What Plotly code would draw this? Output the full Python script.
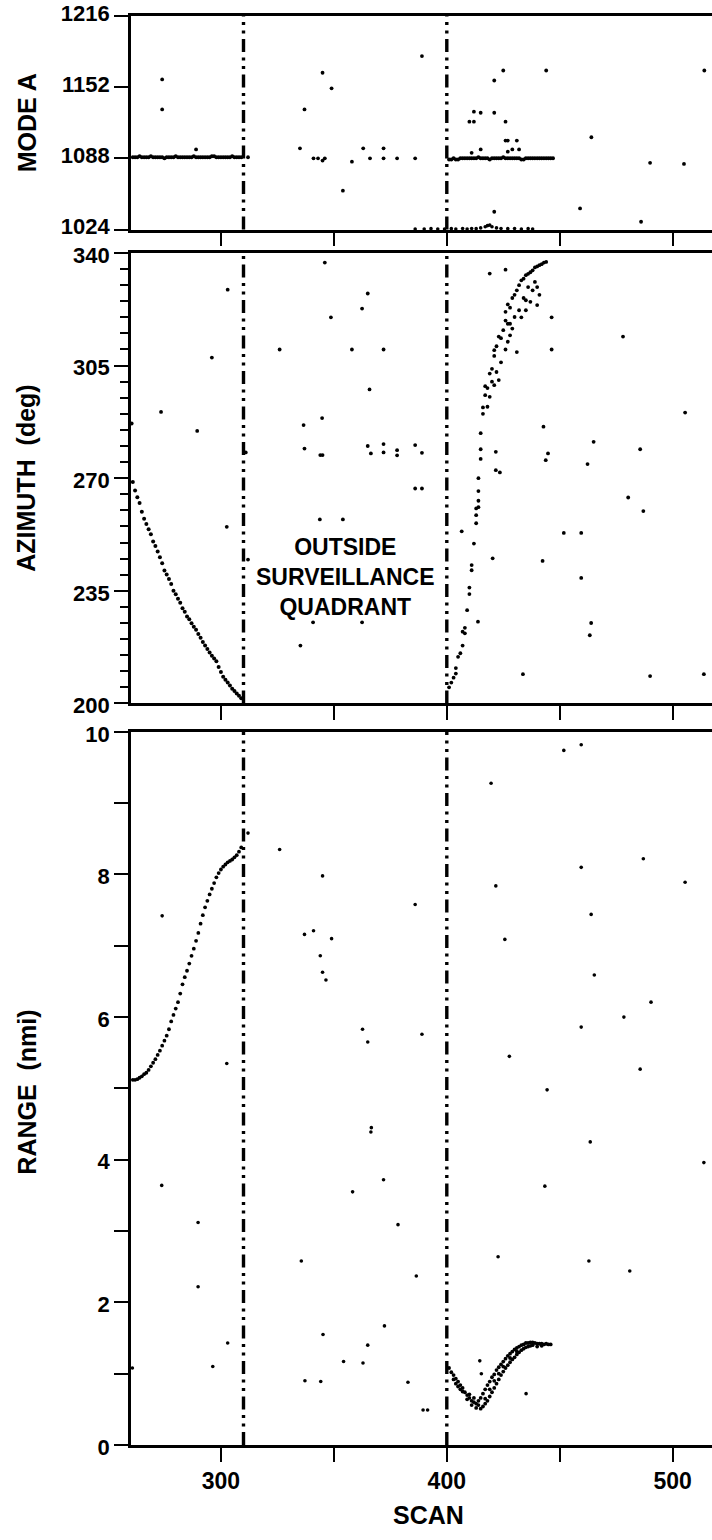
import plotly.graph_objects as go

# ---------------- data ----------------
scan_ticks = [300, 350, 400, 450, 500]
scan_tick_text = ["300", "", "400", "", "500"]
scan_range = [260.2, 517.4]
quadrant_bounds = [310, 400]

mode_range = [1024, 1216]
mode_ticks = [1024, 1088, 1152, 1216]
az_range = [200, 340]
az_ticks = [200, 235, 270, 305, 340]
rng_range = [0, 10]
rng_ticks = [0, 2, 4, 6, 8, 10]
rng_minor_ticks = [1, 3, 5, 7, 9]

# MODE A panel
modeA_track1_scan = list(range(261, 310))
modeA_track1_val = [1089, 1089, 1089, 1090, 1089, 1089, 1089, 1089, 1090, 1089,
                    1089, 1089, 1089, 1089, 1088, 1089, 1089, 1089, 1089, 1090,
                    1089, 1089, 1089, 1089, 1089, 1089, 1089, 1090, 1089, 1089,
                    1089, 1089, 1089, 1089, 1089, 1090, 1090, 1089, 1089, 1089,
                    1089, 1089, 1089, 1089, 1090, 1089, 1089, 1089, 1089]
modeA_track2_scan = list(range(401, 448))
modeA_track2_val = [1087, 1087, 1088, 1087, 1087, 1088, 1088, 1088, 1088, 1088,
                    1088, 1088, 1088, 1089, 1088, 1088, 1088, 1088, 1087, 1088,
                    1088, 1088, 1088, 1088, 1089, 1088, 1088, 1088, 1088, 1088,
                    1088, 1088, 1087, 1087, 1088, 1088, 1088, 1088, 1088, 1088,
                    1088, 1088, 1088, 1088, 1088, 1088, 1088]
modeA_low = [(386, 1024.5), (390, 1024.5), (393, 1024.8), (396, 1024.5), (399, 1024.5),
             (402, 1024.8), (404, 1024.5), (407, 1025), (409, 1024.5), (411, 1025),
             (413, 1024.8), (415, 1025.5), (417, 1026.5), (418, 1027.5), (419, 1028),
             (420, 1026.5), (422, 1025.5), (424, 1025), (427, 1024.8), (430, 1025),
             (433, 1024.5), (436, 1024.8), (438, 1024.5)]
modeA_scatter = [(274, 1159), (274, 1132), (289, 1096), (312, 1089), (335, 1097),
                 (337, 1132), (345, 1165), (341, 1088), (343, 1088), (346, 1088),
                 (345, 1086), (349, 1151), (354, 1059), (358, 1085), (363, 1097),
                 (366, 1088), (372, 1097), (372, 1088), (378, 1088), (386, 1088),
                 (389, 1180), (410, 1121), (412, 1121), (412, 1130), (415, 1129),
                 (421, 1129), (426, 1121), (421, 1158), (425, 1167), (444, 1167),
                 (426, 1104), (427, 1104), (431, 1104), (411, 1093), (415, 1096),
                 (427, 1094), (429, 1096), (432, 1096), (421, 1040), (464, 1107),
                 (459, 1043), (486, 1031), (490, 1084), (505, 1083), (514, 1167)]

# AZIMUTH panel
az_track1_scan = list(range(260, 310))
az_track1_val = [270.0, 268.8, 266.2, 264.1, 262.3, 259.6, 257.4, 255.8, 254.1, 252.6,
                 250.3, 248.9, 247.2, 245.4, 243.6, 241.3, 240.1, 238.7, 237.1, 235.0,
                 233.9, 232.5, 231.3, 229.6, 228.5, 227.0, 226.2, 224.9, 223.8, 222.9,
                 221.6, 220.4, 219.1, 218.0, 216.9, 215.8, 214.8, 214.0, 213.1, 211.3,
                 209.8, 208.3, 207.4, 206.5, 205.6, 204.6, 203.9, 203.1, 202.4, 201.6]
az_track2 = [(401, 205), (402, 206.5), (403, 208), (404, 209.3), (404, 211), (405, 214.5),
             (406, 215.6), (407, 218), (407, 222.3), (408, 221.8), (408, 223.5), (409, 229),
             (410, 234), (410, 236), (411, 241.4), (411, 243), (412, 249.7), (413, 256),
             (413, 258.5), (413, 260.6), (414, 261), (414, 263), (414, 266), (414, 270),
             (415, 276), (415, 279), (415, 284), (416, 290), (416, 292), (417, 295.8),
             (417, 298.6), (418, 298), (419, 302.5), (420, 304), (421, 308), (421, 309.8),
             (422, 311), (423, 314), (424, 313.5), (425, 316), (426, 319), (426, 321.7),
             (427, 318), (427, 324), (428, 323), (429, 326), (430, 327), (431, 328.4),
             (432, 330), (433, 331.5), (434, 332), (435, 333.1), (436, 333.5), (437, 334),
             (438, 334.6), (439, 335.5), (440, 335.8), (441, 336.2), (442, 336.5),
             (443, 337), (444, 337.2),
             (418, 292.2), (419, 295.3), (421, 298.9), (423, 300.5), (427, 312.4),
             (428, 314.4), (429, 316.5), (430, 320.1), (431, 309.2), (432, 322.2),
             (433, 320), (435, 322.2), (435, 325.3), (436, 329.4), (437, 324.8),
             (438, 328.4), (439, 331), (440, 323.8), (440, 329.4), (441, 327),
             (424, 306), (426, 310), (428, 318), (434, 326), (422, 303), (420, 300)]
az_scatter = [(303, 328.6), (296, 307.5), (273.5, 290.6), (289.5, 284.7), (260.5, 287),
              (311, 278), (326, 310), (336.6, 286.5), (337, 279.2), (344.8, 288.7),
              (344, 277.2), (345, 277.2), (346, 337), (348.7, 320), (358, 310),
              (362.5, 322.7), (365, 327.4), (365.8, 297.6), (365, 280), (366.4, 277.7),
              (372, 310), (372, 280.6), (372, 278), (378, 278.7), (378, 277.1),
              (386, 280.3), (389, 277.9), (386, 266.8), (389, 266.8), (419, 333.6),
              (426, 334.8), (421.7, 278.2), (421.7, 272.5), (423.5, 271.8), (442.8, 286),
              (444.8, 277.7), (443.8, 275.6), (446.4, 320), (446.4, 310), (465, 281.3),
              (462.3, 274.4), (478, 314), (485.6, 279), (480.3, 264), (487, 259.8),
              (505.5, 290.4), (302.6, 254.9), (312, 244.7), (343.8, 257.2), (354, 257.2),
              (335.2, 218), (340.8, 225.2), (362.5, 225.2), (406.6, 253.5), (420.3, 245.1),
              (413.8, 225.4), (442.4, 244.3), (451.8, 253), (459.5, 253), (459.5, 239),
              (463.9, 225), (463.3, 221.2), (433.7, 209.1), (490, 208.5), (513.8, 209.1)]

# RANGE panel
rng_track1_scan = list(range(260, 310))
rng_track1_val = [5.12, 5.12, 5.12, 5.13, 5.15, 5.17, 5.20, 5.22, 5.26, 5.31,
                  5.36, 5.41, 5.47, 5.53, 5.60, 5.67, 5.74, 5.83, 5.94, 6.03,
                  6.12, 6.21, 6.33, 6.46, 6.56, 6.65, 6.75, 6.86, 6.96, 7.07,
                  7.18, 7.31, 7.43, 7.54, 7.63, 7.72, 7.80, 7.88, 7.96, 8.02,
                  8.07, 8.11, 8.14, 8.17, 8.19, 8.21, 8.24, 8.27, 8.32, 8.38]
rng_track2 = [(401, 1.08), (402, 1.02), (403, 0.98), (404, 0.93), (405, 0.89), (406, 0.84),
              (407, 0.80), (408, 0.74), (409, 0.70), (410, 0.66), (411, 0.62), (412, 0.60),
              (413, 0.58), (414, 0.62), (415, 0.66), (416, 0.72), (417, 0.78), (418, 0.84),
              (419, 0.89), (420, 0.95), (421, 0.99), (422, 1.05), (423, 1.09), (424, 1.13),
              (425, 1.17), (426, 1.21), (427, 1.25), (428, 1.28), (429, 1.31), (430, 1.34),
              (431, 1.36), (432, 1.38), (433, 1.40), (434, 1.41), (435, 1.43), (436, 1.43),
              (437, 1.44), (438, 1.44), (439, 1.43), (440, 1.42), (441, 1.42), (442, 1.42),
              (443, 1.41), (444, 1.42), (445, 1.41), (446, 1.41),
              (403, 0.92), (405, 0.82), (407, 0.75), (409, 0.64), (411, 0.56), (413, 0.52),
              (415, 0.51), (416, 0.54), (417, 0.58), (418, 0.62), (419, 0.68), (420, 0.74),
              (421, 0.80), (422, 0.86), (423, 0.92), (424, 0.98), (425, 1.03), (426, 1.08),
              (427, 1.12), (428, 1.16), (429, 1.20), (430, 1.23), (431, 1.27), (432, 1.30),
              (433, 1.33), (434, 1.35), (435, 1.37), (436, 1.38), (437, 1.39), (438, 1.40),
              (440, 1.38), (442, 1.39),
              (404, 0.86), (406, 0.78), (410, 0.71), (412, 0.66), (414, 0.56), (417, 0.65),
              (419, 0.78), (421, 0.90), (423, 1.00), (425, 1.10), (428, 1.22), (431, 1.31)]
rng_scatter = [(274, 7.42), (312, 8.58), (326, 8.35), (345, 7.98), (337, 7.16), (341, 7.21),
               (349, 7.10), (344, 6.86), (345, 6.63), (346.5, 6.52), (386, 7.58), (362.7, 5.83),
               (365, 5.65), (389, 5.76), (419.6, 9.28), (421.7, 7.84), (425.7, 7.09),
               (451.8, 9.74), (459.5, 9.82), (459.5, 8.1), (463.9, 7.44), (465.3, 6.59),
               (487, 8.22), (505.5, 7.89), (490.4, 6.21), (478.4, 6.0), (459.5, 5.86),
               (302.6, 5.35), (427.7, 5.45), (485.6, 5.27), (444.4, 4.98), (366.4, 4.39),
               (366.6, 4.45), (463.5, 4.25), (513.8, 3.96), (273.8, 3.64), (372, 3.72),
               (358.3, 3.55), (443.4, 3.63), (289.9, 3.12), (378.4, 3.09), (335.6, 2.58),
               (422.7, 2.64), (462.9, 2.58), (481, 2.44), (386.5, 2.37), (289.9, 2.22),
               (372.4, 1.67), (345.2, 1.55), (260.8, 1.08), (296.4, 1.10), (303, 1.43),
               (337.2, 0.90), (344.2, 0.89), (354.3, 1.17), (362.9, 1.15), (365, 1.40),
               (382.8, 0.88), (389.5, 0.49), (391.5, 0.49), (414.6, 1.18), (415.3, 1.0),
               (435.1, 0.72)]

annot_text = "OUTSIDE<br>SURVEILLANCE<br>QUADRANT"
annot_pos = (355, 239.3)

# ---------------- figure ----------------
W, H = 712, 1540
PLOT_LEFT, PLOT_TOP, PLOT_BOT = 130.5, 15.7, 1445.0   # page pixels
L = PLOT_LEFT
T = PLOT_TOP
B = H - PLOT_BOT
R = 0
plot_h = PLOT_BOT - PLOT_TOP
plot_w = W - L - R


def frac(py):
    return (PLOT_BOT - py) / plot_h


def xfrac(px):
    return (px - PLOT_LEFT) / plot_w


FONT = "Liberation Sans, Arial, Helvetica, sans-serif"
TXT = dict(family=FONT, size=23, color="black", weight="bold")
TICKF = dict(family=FONT, size=22, color="black", weight="bold")
fig = go.Figure()


def add_pts(xs, ys, xa, ya, size):
    fig.add_trace(go.Scatter(x=xs, y=ys, mode="markers", xaxis=xa, yaxis=ya,
                             marker=dict(size=size, color="black", line=dict(width=0)),
                             cliponaxis=False, showlegend=False, hoverinfo="skip"))


def unzip(pairs):
    return [p[0] for p in pairs], [p[1] for p in pairs]


# top panel: x3 / y3
add_pts(modeA_track1_scan, modeA_track1_val, "x3", "y3", 4)
add_pts(modeA_track2_scan, modeA_track2_val, "x3", "y3", 4)
add_pts(*unzip(modeA_low), "x3", "y3", 3.6)
add_pts(*unzip(modeA_scatter), "x3", "y3", 3.8)
# middle panel: x2 / y2
add_pts(az_track1_scan, az_track1_val, "x2", "y2", 4)
add_pts(*unzip(az_track2), "x2", "y2", 3.8)
add_pts(*unzip(az_scatter), "x2", "y2", 3.8)
# bottom panel: x / y
add_pts(rng_track1_scan, rng_track1_val, "x", "y", 3.8)
add_pts(*unzip(rng_track2), "x", "y", 3.8)
add_pts(*unzip(rng_scatter), "x", "y", 3.6)

xcommon = dict(range=scan_range, tickmode="array", tickvals=scan_ticks,
               ticktext=scan_tick_text, ticks="outside", ticklen=14, tickwidth=2,
               tickcolor="black", showline=True, linewidth=2.6, linecolor="black",
               mirror=True, showgrid=False, zeroline=False, tickfont=TXT, domain=[0, 1],
               automargin=False)
ycommon = dict(ticks="outside", ticklen=14, tickwidth=2, tickcolor="black",
               showline=True, linewidth=2.6, linecolor="black", showgrid=False,
               zeroline=False, tickfont=TICKF, automargin=False)

dom_rng = [0, frac(731.7)]
dom_az = [frac(703.3), frac(252.7)]
dom_mode = [frac(229.3), 1]

# (ticklabelshift acts in screen pixels: positive moves labels downward here)
fig.update_layout(
    width=W, height=H, margin=dict(l=L, r=R, t=T, b=B, pad=0, autoexpand=False),
    paper_bgcolor="white", plot_bgcolor="white", showlegend=False,
    font=dict(family=FONT, size=23, color="black"),
    xaxis=dict(xcommon, anchor="y"),
    xaxis2=dict(xcommon, anchor="y2", showticklabels=False),
    xaxis3=dict(xcommon, anchor="y3", showticklabels=False),
    yaxis=dict(ycommon, domain=dom_rng, range=rng_range, tickmode="array",
               tickvals=rng_ticks, anchor="x", ticklabelshift=2,
               minor=dict(tickmode="array", tickvals=rng_minor_ticks, ticks="outside",
                          ticklen=14, tickwidth=1.6, tickcolor="black", showgrid=False)),
    yaxis2=dict(ycommon, domain=dom_az, range=az_range, tickmode="array",
                tickvals=az_ticks, anchor="x2", ticklabelshift=2,
                minor=dict(dtick=5, tick0=200, ticks="outside", ticklen=8,
                           tickwidth=1.6, tickcolor="black", showgrid=False)),
    yaxis3=dict(ycommon, domain=dom_mode, range=mode_range, tickmode="array",
                tickvals=mode_ticks, anchor="x3", ticklabelshift=-3),
)

dash = "13px,5.5px,3px,5.5px,3px,5.5px"
shapes = []
for xr, yr in [("x", "y domain"), ("x2", "y2 domain"), ("x3", "y3 domain")]:
    for b in quadrant_bounds:
        shapes.append(dict(type="line", xref=xr, yref=yr, x0=b, x1=b, y0=0, y1=1,
                           line=dict(color="black", width=3.4, dash=dash), layer="above"))
fig.update_layout(shapes=shapes)

title_x = xfrac(26)
TITLE = dict(family=FONT, size=25, color="black", weight="bold")
annotations = [
    dict(text=annot_text, x=annot_pos[0], y=annot_pos[1], xref="x2", yref="y2",
         showarrow=False, font=TXT, align="center", xanchor="center", yanchor="middle"),
    dict(text="MODE A", x=title_x, y=sum(dom_mode) / 2, xref="paper", yref="paper",
         textangle=-90, showarrow=False, xanchor="center", yanchor="middle", font=TITLE),
    dict(text="AZIMUTH\u00a0\u00a0(deg)", x=title_x, y=sum(dom_az) / 2, xref="paper",
         yref="paper", textangle=-90, showarrow=False, xanchor="center",
         yanchor="middle", font=TITLE),
    dict(text="RANGE\u00a0\u00a0(nmi)", x=title_x, y=frac(1092), xref="paper",
         yref="paper", textangle=-90, showarrow=False, xanchor="center",
         yanchor="middle", font=TITLE),
    dict(text="SCAN", x=xfrac(428), y=frac(1515), xref="paper", yref="paper",
         showarrow=False, xanchor="center", yanchor="middle", font=TITLE),
]
fig.update_layout(annotations=annotations)

# remove the default 8px page margin so the figure sits at the window's corner
fig.write_html("out.html", config={"displayModeBar": False},
               post_script="document.body.style.margin='0px';")
